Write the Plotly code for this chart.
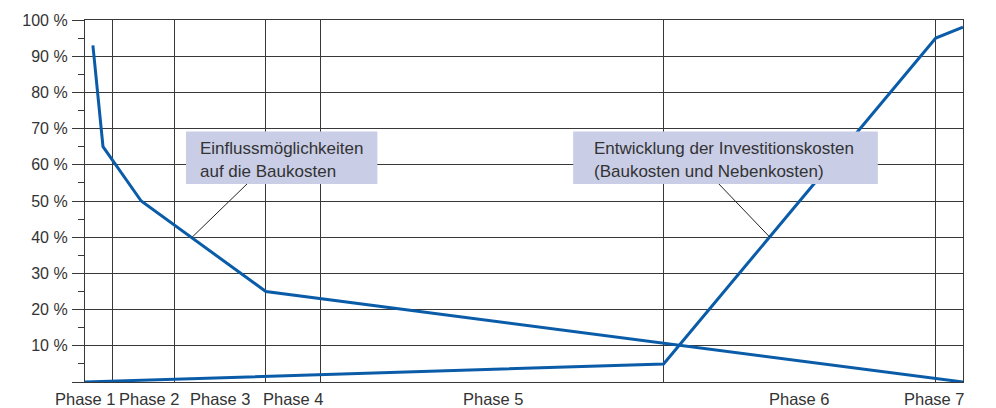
import plotly.graph_objects as go

# ---- data ----
# x: relative project time (0 = start, 100 = end)
phase_bounds = [0, 3.08, 10.25, 20.6, 26.8, 65.9, 96.9, 100]
phase_labels = ["Phase 1", "Phase 2", "Phase 3", "Phase 4", "Phase 5", "Phase 6", "Phase 7"]
phase_label_x = [0.1, 7.4, 15.4, 23.7, 46.5, 81.4, 96.8]

influence_x = [0.9, 2.05, 6.4, 20.6, 100]
influence_y = [93, 65, 50, 25, 0]

cost_x = [0, 65.9, 96.9, 100]
cost_y = [0, 5, 95, 98]

y_ticks = [0, 10, 20, 30, 40, 50, 60, 70, 80, 90, 100]
y_ticktext = ["" if v == 0 else f"{v} %" for v in y_ticks]
y_minor = [5, 15, 25, 35, 45, 55, 65, 75, 85, 95]

label1 = ["Einflussmöglichkeiten", "auf die Baukosten"]
label2 = ["Entwicklung der Investitionskosten", "(Baukosten und Nebenkosten)"]

# ---- styles ----
BLUE = "#0a5ca8"
GRID = "#383838"
TXT = "#333333"
BOX = "#c9cde6"
FONT = "Liberation Sans"

fig = go.Figure()
fig.add_trace(go.Scatter(x=influence_x, y=influence_y, mode="lines",
                         line=dict(color=BLUE, width=3), hoverinfo="skip"))
fig.add_trace(go.Scatter(x=cost_x, y=cost_y, mode="lines",
                         line=dict(color=BLUE, width=3), hoverinfo="skip"))

shapes = []
# short ticks below the axis at the interior phase boundaries
for b in phase_bounds[1:-1]:
    shapes.append(dict(type="line", xref="x", yref="y", x0=b, x1=b,
                       ysizemode="pixel", yanchor=0, y0=0, y1=-5,
                       line=dict(color=GRID, width=1.3)))

# annotation boxes + leader lines
box1 = dict(x0=11.5, x1=33.3, y0=54.7, y1=69.2)
box2 = dict(x0=55.6, x1=90.3, y0=54.7, y1=69.2)
for bx in (box1, box2):
    shapes.append(dict(type="rect", xref="x", yref="y", layer="above",
                       fillcolor=BOX, line=dict(width=0), **bx))
shapes.append(dict(type="line", xref="x", yref="y", x0=18.45, y0=54.7, x1=12.2, y1=40,
                   line=dict(color="#222", width=1)))
shapes.append(dict(type="line", xref="x", yref="y", x0=72.2, y0=54.7, x1=78.0, y1=40,
                   line=dict(color="#222", width=1)))

annotations = []
for lab, lx in zip(phase_labels, phase_label_x):
    annotations.append(dict(x=lx, y=0, xref="x", yref="y", text=lab, showarrow=False,
                            xanchor="center", yanchor="top", yshift=-6,
                            font=dict(family=FONT, size=16.5, color=TXT)))
for lines, bx, pad in ((label1, box1, 13), (label2, box2, 20)):
    for i, t in enumerate(lines):
        annotations.append(dict(x=bx["x0"], y=bx["y1"], xref="x", yref="y", text=t,
                                showarrow=False, xanchor="left", yanchor="middle",
                                xshift=pad - 1, yshift=-17 - 23 * i,
                                font=dict(family=FONT, size=17, color=TXT)))

fig.update_layout(
    width=996, height=408,
    margin=dict(l=85, r=33, t=18, b=26),
    paper_bgcolor="white", plot_bgcolor="white",
    showlegend=False,
    shapes=shapes, annotations=annotations,
    xaxis=dict(range=[0, 100], tickvals=phase_bounds, showticklabels=False, ticks="",
               showgrid=True, gridcolor=GRID, gridwidth=1.3, zeroline=False,
               showline=True, linecolor=GRID, linewidth=1.3, mirror=True, fixedrange=True),
    yaxis=dict(range=[0, 100], tickvals=y_ticks, ticktext=y_ticktext,
               ticks="outside", ticklen=12, tickcolor=GRID, tickwidth=1.3,
               ticklabelstandoff=1,
               minor=dict(tickvals=y_minor, ticks="outside", ticklen=6, tickcolor=GRID,
                          tickwidth=1.3, showgrid=False),
               showgrid=True, gridcolor=GRID, gridwidth=1.3, zeroline=False,
               showline=True, linecolor=GRID, linewidth=1.3, mirror=True,
               tickfont=dict(family=FONT, size=16, color=TXT), fixedrange=True),
)

fig.write_html("out.html")
